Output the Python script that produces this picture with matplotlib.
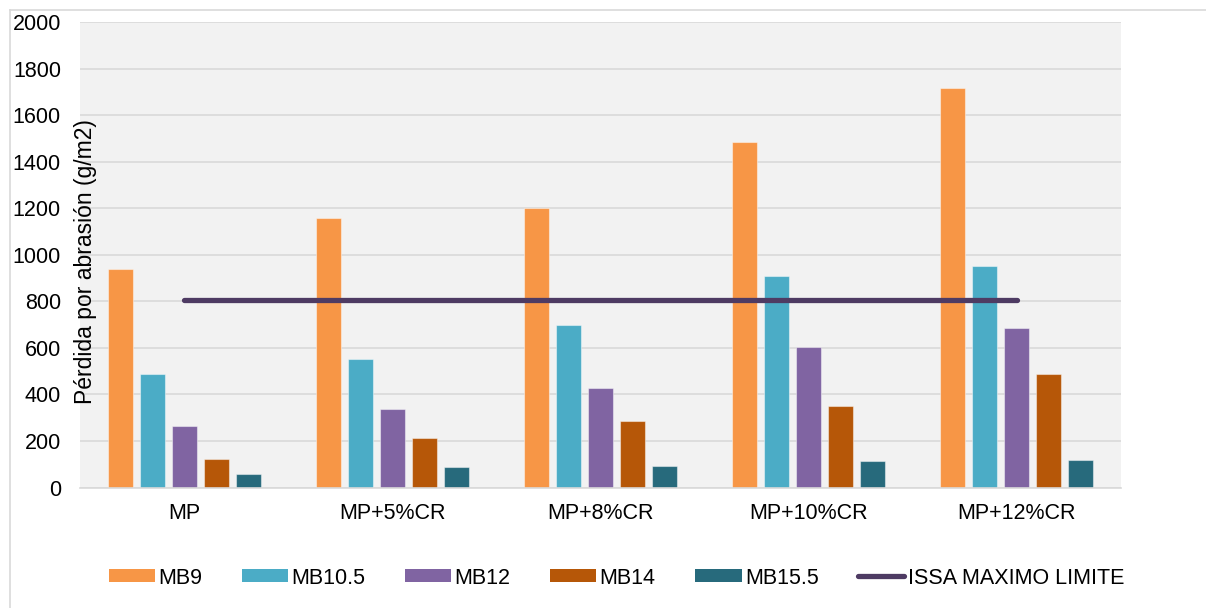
import numpy as np
import matplotlib
matplotlib.use('Agg')
import matplotlib.pyplot as plt
from matplotlib.lines import Line2D
from matplotlib.patches import Patch

plt.rcParams['font.family'] = ['Liberation Sans', 'DejaVu Sans']

# Datos de pérdida por abrasión (g/m2) para cada mezcla
categorias = ['MP', 'MP+5%CR', 'MP+8%CR', 'MP+10%CR', 'MP+12%CR']
mb9 = [939, 1156, 1200, 1485, 1717]
mb10_5 = [488, 552, 698, 908, 953]
mb12 = [265, 336, 429, 602, 684]
mb14 = [124, 211, 286, 350, 486]
mb15_5 = [59, 88, 92, 112, 118]
issa_limite = [807, 807, 807, 807, 807]

series = [('MB9', mb9, '#F79646'),
          ('MB10.5', mb10_5, '#4BACC6'),
          ('MB12', mb12, '#8064A2'),
          ('MB14', mb14, '#B65708'),
          ('MB15.5', mb15_5, '#276A7C')]
color_linea = '#4E3B63'
tam_fuente = 15.5

W, H = 1206, 608
fig = plt.figure(figsize=(W / 100, H / 100), dpi=100)
ax = fig.add_axes([80 / W, (H - 487.5) / H, 1041 / W, 465.5 / H])
ax.set_facecolor('#F2F2F2')

x = np.arange(len(categorias))
ancho = 0.12
paso = 0.1537
for i, (nombre, valores, color) in enumerate(series):
    ax.bar(x + (i - 2) * paso, valores, width=ancho, color=color,
           edgecolor=(1, 1, 1, 0.45), linewidth=0.8, zorder=2)

ax.plot(x, issa_limite, color=color_linea, lw=3.8, solid_capstyle='round', zorder=3)

ax.set_xlim(-0.5, len(categorias) - 0.5)
ax.set_ylim(0, 2000)
ax.set_yticks(np.arange(0, 2001, 200))
ax.set_xticks(x)
ax.set_xticklabels(categorias)
ax.tick_params(axis='both', length=0, labelsize=tam_fuente, colors='black')
ax.tick_params(axis='y', pad=13.7)
ax.tick_params(axis='x', pad=11.5)
ax.grid(axis='y', color='#D9D9D9', lw=1.2, zorder=0)
ax.set_axisbelow(True)
for lado in ['top', 'right', 'left']:
    ax.spines[lado].set_visible(False)
ax.spines['bottom'].set_color('#D9D9D9')
ax.spines['bottom'].set_linewidth(1.2)

# Título del eje Y dentro del área de trazado
fig.text(86 / W, 1 - 262 / H, 'Pérdida por abrasión (g/m2)', rotation=90,
         ha='center', va='center', fontsize=16.5, color='black')

# Marco exterior del gráfico
fig.add_artist(Line2D([9.5 / W, 9.5 / W], [0, 1 - 10 / H], color='#D9D9D9', lw=1.2))
fig.add_artist(Line2D([9.5 / W, 1], [1 - 10 / H, 1 - 10 / H], color='#D9D9D9', lw=1.2))

manejadores = [Patch(facecolor=c, edgecolor='none', label=n) for n, _, c in series]
manejadores.append(Line2D([0], [0], color=color_linea, lw=3.8,
                          solid_capstyle='round', label='ISSA MAXIMO LIMITE'))
fig.legend(handles=manejadores, loc='center', bbox_to_anchor=(616.5 / W, 1 - 578 / H),
           ncol=6, frameon=False, fontsize=tam_fuente, handlelength=2.14, handleheight=0.56,
           handletextpad=0.15, columnspacing=1.85)

fig.savefig('out.png', dpi=100)
